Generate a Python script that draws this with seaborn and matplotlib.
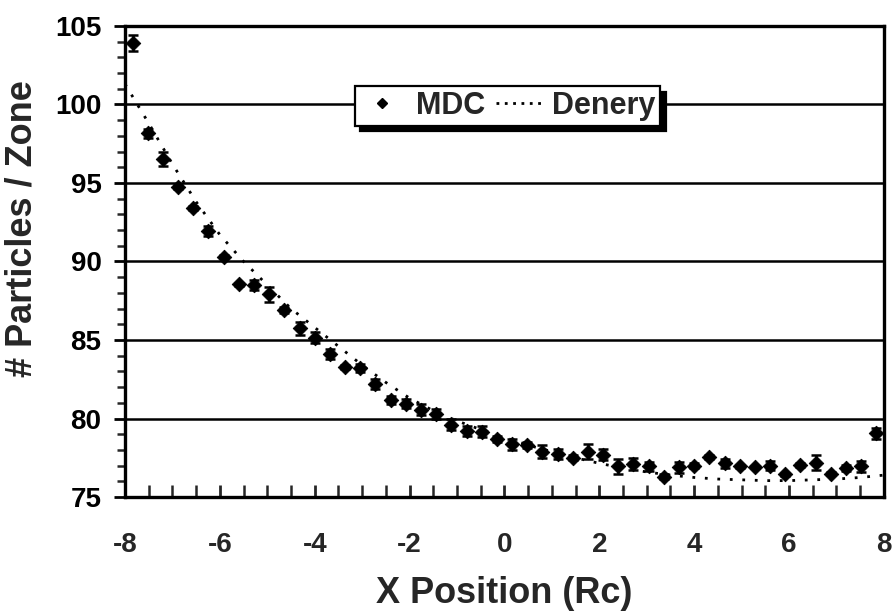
import matplotlib
matplotlib.use("Agg")
import matplotlib.pyplot as plt
import seaborn as sns
import pandas as pd
from matplotlib.lines import Line2D
from matplotlib.ticker import MultipleLocator

# ---- data ----
mdc_x = [-7.84, -7.52, -7.20, -6.88, -6.56, -6.24, -5.92, -5.60, -5.28, -4.96,
         -4.64, -4.32, -4.00, -3.68, -3.36, -3.04, -2.72, -2.40, -2.08, -1.76,
         -1.44, -1.12, -0.80, -0.48, -0.16, 0.16, 0.48, 0.80, 1.12, 1.44,
         1.76, 2.08, 2.40, 2.72, 3.04, 3.36, 3.68, 4.00, 4.32, 4.64,
         4.96, 5.28, 5.60, 5.92, 6.24, 6.56, 6.88, 7.20, 7.52, 7.84]
mdc_y = [103.93, 98.15, 96.5, 94.75, 93.4, 91.95, 90.3, 88.55, 88.5, 87.9,
         86.9, 85.75, 85.15, 84.1, 83.3, 83.2, 82.2, 81.2, 80.95, 80.55,
         80.3, 79.6, 79.2, 79.15, 78.7, 78.35, 78.3, 77.9, 77.75, 77.5,
         77.9, 77.7, 76.95, 77.1, 76.95, 76.3, 76.9, 77.0, 77.55, 77.15,
         76.95, 76.9, 77.0, 76.45, 77.05, 77.2, 76.5, 76.85, 76.95, 79.05]
mdc_err = [0.5, 0.3, 0.45, 0.15, 0.15, 0.3, 0.1, 0.1, 0.3, 0.45,
           0.2, 0.4, 0.35, 0.3, 0.12, 0.25, 0.3, 0.25, 0.3, 0.35,
           0.3, 0.35, 0.3, 0.35, 0.2, 0.35, 0.2, 0.4, 0.3, 0.15,
           0.45, 0.35, 0.5, 0.4, 0.3, 0.15, 0.35, 0.15, 0.15, 0.3,
           0.1, 0.05, 0.3, 0.1, 0.15, 0.45, 0.1, 0.2, 0.35, 0.35]

denery_x = [-8, -7.5, -7, -6.5, -6, -5.5, -5, -4.5, -4, -3.5, -3, -2.5, -2,
            -1.5, -1, -0.5, 0, 0.5, 1, 1.5, 2, 2.5, 3, 3.5, 4, 4.5, 5, 5.5,
            6, 6.5, 7, 7.5, 8]
denery_y = [101.3, 98.8, 96.2, 93.8, 91.7, 90.0, 88.5, 87.0, 85.8, 84.6, 83.4,
            82.3, 81.3, 80.5, 79.85, 79.3, 78.8, 78.3, 77.9, 77.5, 77.15, 76.85,
            76.6, 76.4, 76.25, 76.15, 76.1, 76.05, 76.05, 76.1, 76.15, 76.25,
            76.4]

x_ticks = [-8, -6, -4, -2, 0, 2, 4, 6, 8]
y_ticks = [75, 80, 85, 90, 95, 100, 105]
grid_levels = [80, 85, 90, 95, 100]

mdc = pd.DataFrame({"x": mdc_x, "y": mdc_y, "err": mdc_err})
den = pd.DataFrame({"x": denery_x, "y": denery_y})

# ---- style ----
sns.set_theme(style="white")
plt.rcParams["font.family"] = ["Liberation Sans", "DejaVu Sans"]
plt.rcParams["font.weight"] = "bold"

fig = plt.figure(figsize=(8.96, 6.16), dpi=100)
ax = fig.add_axes([0.1395, 0.193, 0.847, 0.765])

for g in grid_levels:
    ax.axhline(g, color="black", lw=1.8, zorder=1)

sns.lineplot(data=den, x="x", y="y", ax=ax, color="black", lw=2.0,
             linestyle=(0, (1, 3.5)), zorder=2, legend=False)

ax.errorbar(mdc["x"], mdc["y"], yerr=mdc["err"], fmt="none", ecolor="black",
            elinewidth=1.8, capsize=3.3, capthick=1.8, zorder=3)
sns.scatterplot(data=mdc, x="x", y="y", ax=ax, marker="D", s=55,
                color="black", edgecolor="black", zorder=4, legend=False)

ax.set_xlim(-8, 8)
ax.set_ylim(75, 105)
ax.set_xticks(x_ticks)
ax.set_yticks(y_ticks)
ax.set_xticklabels([str(t) for t in x_ticks])
ax.set_yticklabels([str(t) for t in y_ticks])
ax.xaxis.set_minor_locator(MultipleLocator(0.5))
ax.yaxis.set_minor_locator(MultipleLocator(1))

ax.tick_params(axis="y", which="major", direction="out", length=8, width=2,
               labelsize=20, pad=9, left=True, colors="black")
ax.tick_params(axis="y", which="minor", direction="out", length=6, width=1.8,
               left=True)
ax.tick_params(axis="x", which="major", direction="in", length=9, width=2,
               labelsize=20, pad=25, bottom=True)
ax.tick_params(axis="x", which="minor", direction="in", length=9, width=1.8,
               bottom=True)
for lab in ax.get_xticklabels() + ax.get_yticklabels():
    lab.set_fontweight("bold")

for s in ax.spines.values():
    s.set_color("black")
    s.set_linewidth(2.4)

ax.set_xlabel("X Position (Rc)", fontsize=26, fontweight="bold")
ax.set_ylabel("# Particles / Zone", fontsize=26, fontweight="bold")
ax.xaxis.set_label_coords(0.5, -0.168)
ax.yaxis.set_label_coords(-0.112, 0.57)

handles = [
    Line2D([], [], marker="D", color="black", linestyle="none", markersize=5),
    Line2D([], [], color="black", lw=2.0, linestyle=(0, (1, 2))),
]
leg = ax.legend(handles, ["MDC", "Denery"], loc="center",
                bbox_to_anchor=(0.504, 0.83), ncol=2, frameon=True,
                fancybox=False, edgecolor="black", framealpha=1,
                prop={"size": 22, "weight": "bold"}, handlelength=1.5,
                handletextpad=0.35, columnspacing=0.35, borderpad=0.15,
                shadow={"color": "black", "alpha": 1, "ox": 4, "oy": -4})
leg.get_frame().set_linewidth(1.6)
leg.set_zorder(10)

fig.savefig("out.png", dpi=100)
